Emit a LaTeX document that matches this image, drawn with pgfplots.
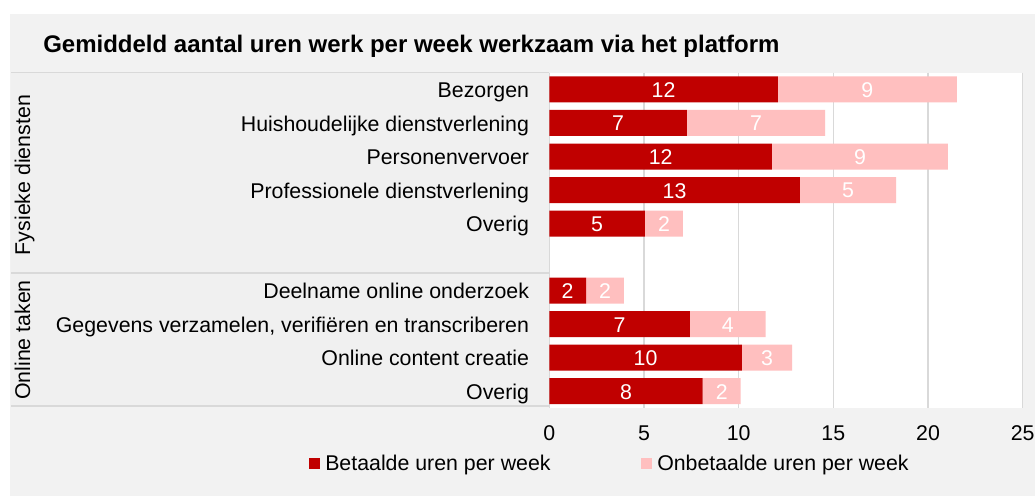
\documentclass[border=0pt]{standalone}
\usepackage{fontspec}
\setmainfont{Liberation Sans}
\usepackage{pgfplots}
\pgfplotsset{compat=1.18}
\usepackage{pgfplotstable}

\definecolor{paid}{HTML}{C00000}
\definecolor{unpaid}{HTML}{FFBFBF}
\definecolor{bg}{HTML}{F2F2F2}
\definecolor{panel}{HTML}{F0F0F0}
\definecolor{rule}{HTML}{D9D9D9}

% rows 1-5: fysieke diensten, row 6 empty, rows 7-10: online taken
\pgfplotstableread{
pos paid unpaid
1 12.07 9.46
2 7.27 7.29
3 11.76 9.29
4 13.23 5.09
5 5.05 2.01
7 1.94 2.00
8 7.43 4.00
9 10.17 2.65
10 8.10 2.01
}\hours

\newcommand{\lbl}{\fontsize{16}{19}\selectfont}

\begin{document}
\begin{tikzpicture}[x=0.75pt,y=0.75pt]
  \path[use as bounding box, fill=white] (0,0) rectangle (1035,496);
  \fill[bg] (10,0) rectangle (1035,482);
  \fill[panel] (11,90) rectangle (549,423.3);
  \draw[rule, line width=1.2pt] (11,423.3) -- (549,423.3);
  \draw[rule, line width=1.2pt] (11,222.7) -- (549,222.7);
  \draw[rule, line width=1.2pt] (11,90) -- (549,90);
  \node[anchor=base west, inner sep=0pt, font=\fontsize{18}{22}\selectfont\bfseries]
    at (43,443) {Gemiddeld aantal uren werk per week werkzaam via het platform};
  \node[rotate=90, anchor=base, inner sep=0pt, font=\lbl] at (30,321) {Fysieke diensten};
  \node[rotate=90, anchor=base, inner sep=0pt, font=\lbl] at (30,156) {Online taken};
  \coordinate (axsw) at (549.3,88.2);

  \begin{axis}[
    at={(axsw)}, anchor=south west,
    scale only axis,
    width=355.05pt, height=251.3pt,
    xbar stacked,
    bar width=19.5pt,
    xmin=0, xmax=25,
    ymin=0.5, ymax=10.5,
    y dir=reverse,
    xtick={0,5,10,15,20,25},
    ytick={1,2,3,4,5,7,8,9,10},
    yticklabels={Bezorgen, Huishoudelijke dienstverlening, Personenvervoer,
      Professionele dienstverlening, Overig, Deelname online onderzoek,
      {Gegevens verzamelen, verifiëren en transcriberen}, Online content creatie, Overig},
    /pgf/number format/assume math mode=true,
    yticklabel style={font=\lbl, anchor=base east, inner sep=0pt, xshift=-15pt, yshift=-6.2pt},
    xticklabel style={font=\lbl, anchor=north, inner sep=0pt, yshift=-13.5pt},
    major tick length=0pt,
    axis line style={draw=none},
    xmajorgrids,
    grid style={rule, line width=1.1pt},
    axis background/.style={fill=white},
    nodes near coords={\pgfmathprintnumber[fixed,precision=0]{\pgfplotspointmeta}},
    every node near coord/.append style={font=\lbl, text=white, anchor=center, yshift=-0.5pt},
    legend columns=2,
    legend image code/.code={\fill[#1] (0pt,-4.1pt) rectangle (8.25pt,4.1pt);},
    legend style={at={(axis description cs:-0.5076,-0.1662)}, anchor=west,
      draw=none, fill=none, inner sep=0pt, font=\lbl,
      nodes={inner sep=0pt},
      /tikz/every odd column/.append style={column sep=3.75pt},
      /tikz/every even column/.append style={column sep=68pt}},
  ]
    \addplot[fill=paid, draw=none, point meta=\thisrow{paid}]
      table[x=paid, y=pos] {\hours};
    \addlegendentry{Betaalde uren per week}
    \addplot[fill=unpaid, draw=none, point meta=\thisrow{unpaid}]
      table[x=unpaid, y=pos] {\hours};
    \addlegendentry{Onbetaalde uren per week}
  \end{axis}
\end{tikzpicture}
\end{document}
